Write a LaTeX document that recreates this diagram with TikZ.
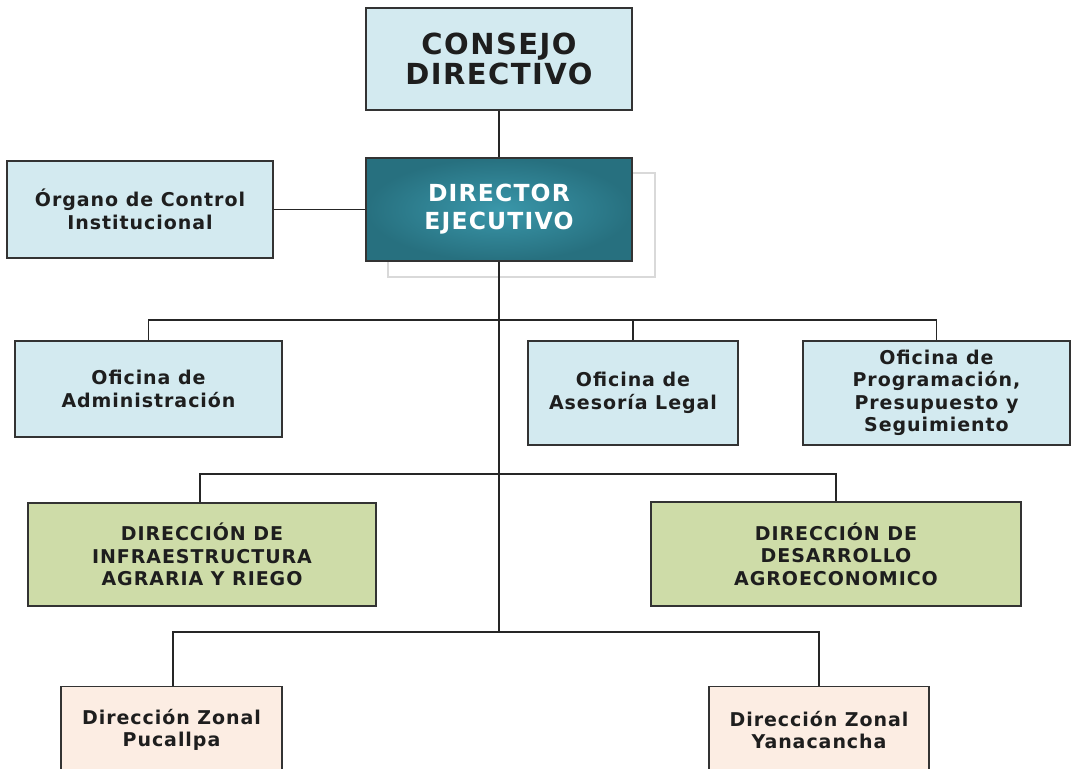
\documentclass[tikz,border=0pt]{standalone}
\usepackage{fontspec}
\setmainfont{DejaVu Sans}[LetterSpace=5]
\usetikzlibrary{positioning}
\definecolor{celeste}{HTML}{D3EAF0}
\definecolor{verde}{HTML}{CEDCA8}
\definecolor{durazno}{HTML}{FCEDE3}
\definecolor{tealin}{HTML}{3A97AA}
\definecolor{tealout}{HTML}{27707F}
\definecolor{texto}{HTML}{1E1E1E}
\tikzset{
  box/.style={draw=black!80, line width=1.2pt, align=center, text=texto,
    font=\fontsize{19}{22.5}\selectfont\bfseries, inner sep=0pt},
  link/.style={draw=black!85, line width=1.2pt}
}
\begin{document}
\begin{tikzpicture}[x=1pt,y=-1pt]
            \useasboundingbox (0,0) rectangle (1072,769);
            \clip (0,0) rectangle (1072,769);
            \fill[white] (0,0) rectangle (1072,769);

            % frame behind the director box
            \draw[black!15, line width=1.2pt] (388,173) rectangle (655,277);

            \node[box, fill=celeste, minimum width=266pt, minimum height=102pt, font=\fontsize{29}{30}\selectfont\bfseries] (consejo) at (499,59) {CONSEJO\\DIRECTIVO};
            \node[box, inner color=tealin, outer color=tealout, text=white, minimum width=266pt, minimum height=103pt, font=\fontsize{23.5}{28}\selectfont\bfseries] (director) at (499,209.5) {DIRECTOR\\EJECUTIVO};
            \node[box, fill=celeste, minimum width=266pt, minimum height=97pt] (oci) at (140,209.5) {Órgano de Control\\Institucional};

            \node[box, fill=celeste, minimum width=267pt, minimum height=96pt] (admin) at (148.5,389) {Oficina de\\Administración};
            \node[box, fill=celeste, minimum width=210pt, minimum height=104pt] (legal) at (633,393) {Oficina de\\Asesoría Legal};
            \node[box, fill=celeste, minimum width=267pt, minimum height=104pt] (opp) at (936.5,393) {Oficina de\\Programación,\\Presupuesto y\\Seguimiento};

            \node[box, fill=verde, minimum width=348pt, minimum height=103pt] (infra) at (202,554.5) {DIRECCIÓN DE\\INFRAESTRUCTURA\\AGRARIA Y RIEGO};
            \node[box, fill=verde, minimum width=370pt, minimum height=104pt] (agro) at (836,554) {DIRECCIÓN DE\\DESARROLLO\\AGROECONOMICO};

            \node[box, fill=durazno, minimum width=221pt, minimum height=87pt, anchor=north] (pucallpa) at (171.5,686) {Dirección Zonal\\Pucallpa};
            \node[box, fill=durazno, minimum width=220pt, minimum height=87pt, anchor=north] (yana) at (819,686) {Dirección Zonal\\Yanacancha};

            % trunk
            \coordinate (t1) at (499,320);
            \coordinate (t2) at (499,474);
            \coordinate (t3) at (499,632);
            \draw[link] (consejo) -- (director);
            \draw[link] (oci) -- (director);
            \draw[link] (director) -- (t3);

            \draw[link] (admin.north) |- (t1) -| (opp.north);
            \draw[link] (legal.north) -- (legal.north |- t1);
            \draw[link] (infra.north -| 200,0) |- (t2) -| (agro.north);
            \draw[link] (173,686) |- (t3) -| (yana.north);
        \end{tikzpicture}
\end{document}
